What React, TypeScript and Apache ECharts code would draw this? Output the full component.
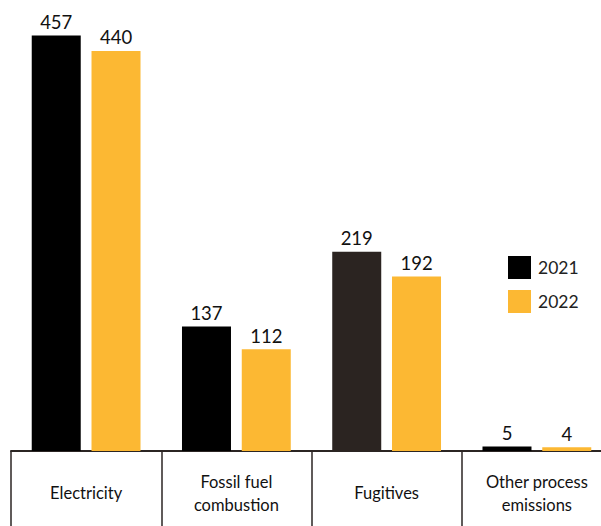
import React, { useEffect, useRef } from "react";
import * as echarts from "echarts";

const categories = ["Electricity", "Fossil fuel\ncombustion", "Fugitives", "Other process\nemissions"];
const series2021 = [457, 137, 219, 5];
const series2022 = [440, 112, 192, 4];
const seriesNames = ["2021", "2022"];

const FONT = "Lato, 'DejaVu Sans', sans-serif";

export default function App() {
  const ref = useRef<HTMLDivElement>(null);
  useEffect(() => {
    if (!ref.current) return;
    const chart = echarts.init(ref.current, null, { renderer: "svg" });
    chart.setOption({
      animation: false,
      textStyle: { fontFamily: FONT },
      grid: { left: 11, right: 8, top: 10, bottom: 75, containLabel: false },
      legend: {
        orient: "vertical",
        left: 503,
        top: 251,
        itemWidth: 23,
        itemHeight: 23,
        itemGap: 11,
        icon: "rect",
        textStyle: { fontSize: 17.5, color: "#222", fontFamily: FONT, padding: [0, 0, 0, 2] },
        data: seriesNames,
      },
      xAxis: {
        type: "category",
        data: categories,
        axisLine: { lineStyle: { color: "#2b2523", width: 2 } },
        axisTick: { show: true, length: 90, lineStyle: { color: "#2b2523", width: 1.5 }, alignWithLabel: false },
        axisLabel: {
          interval: 0,
          color: "#111",
          fontSize: 16.5,
          lineHeight: 23,
          margin: 42,
          verticalAlign: "middle",
          fontFamily: FONT,
        },
      },
      yAxis: {
        type: "value",
        min: 0,
        max: 485,
        show: false,
        splitLine: { show: false },
      },
      series: [
        {
          name: seriesNames[0],
          type: "bar",
          barWidth: 49,
          barGap: "22%",
          itemStyle: { color: "#000000" },
          data: series2021.map((v, i) =>
            i === 2 ? { value: v, itemStyle: { color: "#2b2421" } } : v
          ),
          label: { show: true, position: "top", distance: 4, fontSize: 18.5, color: "#111", fontFamily: FONT },
        },
        {
          name: seriesNames[1],
          type: "bar",
          barWidth: 49,
          itemStyle: { color: "#fcb833" },
          data: series2022,
          label: { show: true, position: "top", distance: 4, fontSize: 18.5, color: "#111", fontFamily: FONT },
        },
      ],
    });
    return () => chart.dispose();
  }, []);
  return (
    <div style={{ position: "absolute", left: 0, top: 0, width: 601, height: 526, overflow: "hidden" }}>
      <div ref={ref} style={{ width: 620, height: 526 }} />
    </div>
  );
}
